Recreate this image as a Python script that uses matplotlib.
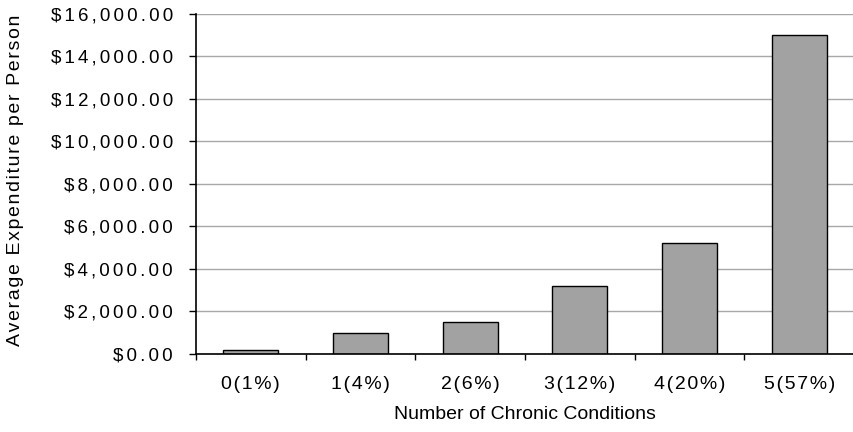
import matplotlib
matplotlib.use("Agg")
import matplotlib.pyplot as plt
import numpy as np

plt.rcParams['font.family'] = ['Liberation Sans', 'DejaVu Sans']

# data
categories = ['0(1%)', '1(4%)', '2(6%)', '3(12%)', '4(20%)', '5(57%)']
expenditure = [200, 1000, 1500, 3200, 5200, 15000]
yticks = np.arange(0, 16001, 2000)


def spaced(s, gap='\u200a'):
    # mimic the wide letter spacing of the original labels
    return gap.join(s)


fig = plt.figure(figsize=(8.54, 4.32), dpi=100)
ax = fig.add_axes([0.2295, 0.1806, 0.7705, 0.787])

x = np.arange(len(categories))
ax.bar(x, expenditure, width=0.5, color='#a2a2a2', edgecolor='black',
       linewidth=1.0, zorder=3)

ax.set_xlim(-0.5, len(categories) - 0.5)
ax.set_ylim(0, 16000)

ax.set_yticks(yticks)
ax.set_yticklabels([spaced('${:,.2f}'.format(v), '\u2006') for v in yticks])
ax.yaxis.grid(True, color='#a8a8a8', linewidth=1.0, zorder=0)
ax.tick_params(axis='y', length=5, width=1, pad=11.5, labelsize=13.5)

ax.set_xticks(x)
ax.set_xticklabels([spaced(c) for c in categories])
ax.set_xticks(np.arange(len(categories) + 1) - 0.5, minor=True)
ax.tick_params(axis='x', which='major', length=0, pad=15.5, labelsize=14)
ax.tick_params(axis='x', which='minor', length=4.5, width=1)

for side in ['top', 'right']:
    ax.spines[side].set_visible(False)
for side in ['left', 'bottom']:
    ax.spines[side].set_linewidth(1.2)
    ax.spines[side].set_zorder(4)

ax.set_xlabel('Number of Chronic Conditions', fontsize=14, va='center')
ax.xaxis.set_label_coords(0.5, -0.178)
ax.set_ylabel(spaced('Average Expenditure per Person'), fontsize=14,
              va='center')
ax.yaxis.set_label_coords(-0.274, 0.51)

fig.savefig('out.png', dpi=100)
